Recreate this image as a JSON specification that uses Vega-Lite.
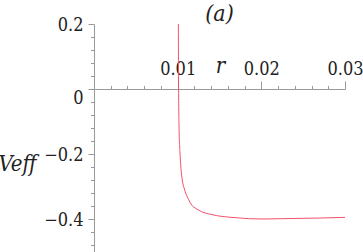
{
  "$schema": "https://vega.github.io/schema/vega-lite/v6.json",
  "width": 251,
  "height": 227.5,
  "autosize": {"type": "none"},
  "padding": {"left": 94, "top": 24, "right": 18, "bottom": 0.5},
  "background": "white",
  "title": {"text": "(a)", "font": "DejaVu Serif Condensed, DejaVu Serif", "fontStyle": "italic", "fontWeight": "normal", "fontSize": 23, "color": "#222222", "baseline": "alphabetic", "offset": 5, "dy": 32, "anchor": "middle", "frame": "group"},
  "config": {"view": {"stroke": null}},
  "data": {"values": [
    {"r": 0.01008, "V": 0.2},
    {"r": 0.01011, "V": 0.0},
    {"r": 0.01016, "V": -0.111},
    {"r": 0.01028, "V": -0.197},
    {"r": 0.0104, "V": -0.245},
    {"r": 0.01055, "V": -0.28},
    {"r": 0.01075, "V": -0.303},
    {"r": 0.01096, "V": -0.32},
    {"r": 0.0113, "V": -0.34},
    {"r": 0.01168, "V": -0.357},
    {"r": 0.0122, "V": -0.368},
    {"r": 0.01287, "V": -0.3775},
    {"r": 0.014, "V": -0.386},
    {"r": 0.01526, "V": -0.392},
    {"r": 0.017, "V": -0.396},
    {"r": 0.0185, "V": -0.399},
    {"r": 0.0202, "V": -0.4},
    {"r": 0.0225, "V": -0.399},
    {"r": 0.0246, "V": -0.398},
    {"r": 0.027, "V": -0.397},
    {"r": 0.03, "V": -0.395}
  ]},
  "mark": {"type": "line", "color": "#f2506a", "strokeWidth": 1, "clip": true, "interpolate": "monotone"},
  "encoding": {
    "x": {
      "field": "r", "type": "quantitative",
      "scale": {"domain": [0, 0.03], "nice": false, "zero": false},
      "axis": {
        "orient": "top", "offset": -65,
        "values": [0.002, 0.004, 0.006, 0.008, 0.01, 0.012, 0.014, 0.016, 0.018, 0.02, 0.022, 0.024, 0.026, 0.028, 0.03],
        "labelExpr": "abs(datum.value*100 - round(datum.value*100)) < 0.001 ? format(datum.value, '.2f') : ''",
        "labelFont": "DejaVu Serif Condensed, DejaVu Serif", "labelFontSize": 18, "labelColor": "#222222",
        "labelPadding": 3, "labelOverlap": false, "labelFlush": false, "labelBound": false,
        "tickSize": {"condition": {"test": "abs(datum.value*100 - round(datum.value*100)) < 0.001", "value": 8}, "value": 3.5},
        "tickColor": "#999999", "domainColor": "#999999", "grid": false,
        "title": "r", "titleFont": "DejaVu Serif Condensed, DejaVu Serif", "titleFontStyle": "italic", "titleFontWeight": "normal",
        "titleFontSize": 22, "titleColor": "#222222", "titleX": 126, "titleY": -17,
        "titleAlign": "center", "titleBaseline": "alphabetic", "titleAngle": 0
      }
    },
    "y": {
      "field": "V", "type": "quantitative",
      "scale": {"domain": [-0.5, 0.2], "nice": false, "zero": false},
      "axis": {
        "orient": "left",
        "values": [-0.48, -0.44, -0.4, -0.36, -0.32, -0.28, -0.24, -0.2, -0.16, -0.12, -0.08, -0.04, 0, 0.04, 0.08, 0.12, 0.16, 0.2],
        "labelExpr": "abs(datum.value*5 - round(datum.value*5)) < 0.001 ? (datum.value == 0 ? '0' : replace(format(datum.value, '.1f'), '-', '\u2212')) : ''",
        "labelFont": "DejaVu Serif Condensed, DejaVu Serif", "labelFontSize": 18, "labelColor": "#222222",
        "labelPadding": 5, "labelOverlap": false, "labelFlush": false, "labelBound": false,
        "labelOffset": {"condition": {"test": "datum.value == 0", "value": 9}, "value": 1.5},
        "tickSize": {"condition": {"test": "abs(datum.value*5 - round(datum.value*5)) < 0.001", "value": 6}, "value": 3.5},
        "tickColor": "#999999", "domainColor": "#999999", "grid": false,
        "title": "Veff", "titleFont": "DejaVu Serif Condensed, DejaVu Serif", "titleFontStyle": "italic", "titleFontWeight": "normal",
        "titleFontSize": 22, "titleColor": "#222222", "titleX": -58, "titleY": 146,
        "titleAlign": "right", "titleBaseline": "alphabetic", "titleAngle": 0
      }
    }
  }
}
